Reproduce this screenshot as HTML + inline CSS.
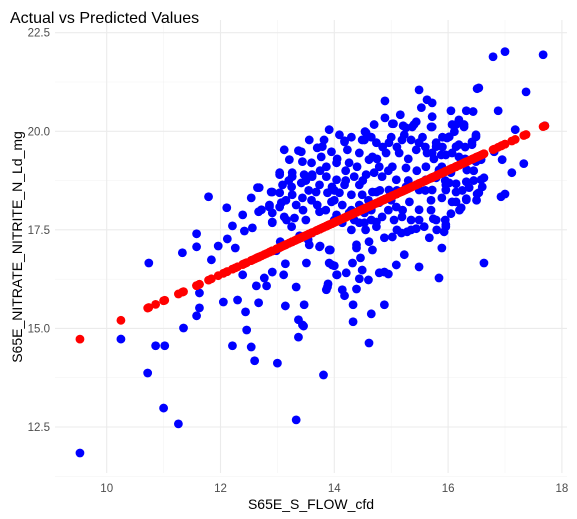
<!DOCTYPE html>
<html><head><meta charset="utf-8"><style>
body{margin:0;background:#fff;}
svg{display:block;font-family:"Liberation Sans",Arial,sans-serif;}
</style></head><body>
<svg id="chart" width="577" height="519"></svg>
<script>
const actualX=[9.53,10.25,10.72,10.86,11.02,11.00,11.26,10.74,11.35,11.63,11.63,11.58,11.58,11.58,11.33,11.79,11.84,11.96,12.05,12.11,12.12,12.21,12.26,12.30,12.21,12.39,12.42,12.44,12.46,12.54,12.56,12.54,12.39,12.60,12.65,12.63,12.67,12.67,12.77,12.81,12.86,12.91,12.91,12.91,12.98,13.00,13.04,13.04,13.05,13.11,13.14,13.14,13.16,13.26,13.33,13.33,13.37,13.37,13.39,13.46,13.47,13.51,13.54,13.61,13.61,13.74,13.81,13.88,13.91,13.91,14.00,14.04,13.44,13.56,13.75,13.89,13.86,13.93,13.96,14.05,14.14,14.18,14.21,14.32,14.33,14.33,14.39,14.39,14.39,14.44,14.46,14.49,14.53,14.60,14.61,14.65,14.67,14.74,14.79,14.88,14.88,14.95,14.61,14.88,15.02,15.09,15.18,15.23,15.28,15.44,15.49,15.58,15.67,15.74,15.84,15.89,15.93,15.96,16.05,16.14,16.23,16.32,16.51,16.60,16.63,16.93,17.00,16.79,17.00,17.67,17.37,16.54,16.51,16.88,15.49,15.63,15.72,14.89,15.53,16.05,16.32,16.44,14.89,15.16,15.72,14.70,15.04,15.21,15.44,15.37,15.70,16.07,16.19,16.28,14.54,14.53,14.18,15.23,15.35,16.11,16.49,16.42,17.18,17.70,16.95,17.33,17.12,16.81,16.58,16.33,16.05,16.63,16.14,15.96,15.81,15.49,15.79,15.98,16.14,15.72,15.96,16.19,15.61,15.84,
13.37,13.79,13.95,14.18,14.23,14.49,14.56,14.44,13.44,13.60,13.77,13.86,14.04,14.26,14.40,14.61,13.04,13.26,13.47,13.61,13.86,14.04,14.35,14.56,14.70,13.09,13.25,13.42,13.74,13.96,14.18,14.44,12.89,13.04,13.26,13.44,13.68,13.88,14.09,14.30,14.49,14.67,12.86,13.07,13.33,13.70,13.95,14.14,14.44,12.91,13.12,13.30,13.74,14.04,14.26,14.53,12.91,13.25,14.14,14.44,14.65,12.72,12.68,
15.02,15.26,15.40,15.72,16.14,16.28,16.49,14.74,14.96,15.19,15.49,15.79,16.02,16.19,16.42,14.67,14.91,15.14,15.44,15.63,15.88,16.07,16.49,14.79,15.02,15.26,15.89,16.33,14.84,15.09,15.61,15.79,16.02,16.32,16.58,14.74,14.96,15.26,15.49,15.72,15.96,16.14,16.37,16.54,14.79,15.09,15.32,15.49,15.89,16.07,16.32,14.84,15.19,15.49,15.79,15.96,14.74,
13.42,13.70,13.82,13.91,14.09,13.56,13.21,13.12,
14.85,15.10,15.60,15.90,16.30,14.05,14.75,15.30,15.75,16.30,13.75,14.20,14.95,15.45,15.95,16.45,13.20,13.50,14.20,14.50,15.30,15.95,16.45,13.55,14.00,14.80,15.10,15.60,16.25,13.15,13.60,14.00,14.60,15.00,15.70,16.50,13.45,13.85,14.30,14.65,14.95,15.20,15.70,16.20,13.50,14.00,14.35,15.05,15.35,15.95,14.30,14.55,15.10,15.35,15.80,14.30,14.65,15.00,15.55,15.90];
const actualY=[11.84,14.73,13.87,14.56,14.56,12.98,12.58,16.66,15.01,15.90,15.52,15.32,17.40,17.07,16.92,18.34,16.74,17.09,15.67,18.06,17.27,17.60,17.04,15.72,14.56,16.36,17.47,15.42,14.96,14.53,17.55,18.31,17.88,14.18,18.57,16.08,17.96,15.65,16.28,16.08,18.08,18.46,17.70,16.43,16.97,14.12,18.08,18.90,17.20,16.36,16.64,15.57,17.75,18.85,16.05,12.68,15.22,14.78,17.35,15.06,15.60,16.66,17.25,17.42,18.90,17.07,13.82,16.05,16.99,16.66,16.59,16.36,15.09,17.12,17.09,16.13,15.98,16.99,16.61,16.36,15.98,15.83,16.41,16.66,15.60,15.17,16.00,17.12,17.04,16.26,16.79,16.48,17.68,16.23,14.63,15.37,16.99,17.70,16.41,16.43,15.60,16.38,17.20,17.30,17.32,16.61,17.42,16.87,17.45,17.53,16.56,17.58,17.30,17.78,16.28,17.04,17.45,17.63,17.91,18.21,18.06,18.29,18.41,18.59,16.66,18.34,18.41,21.89,22.02,21.94,21.00,21.10,21.08,20.52,21.05,20.80,20.72,20.77,20.60,20.52,20.52,20.50,20.34,20.42,20.37,20.17,20.19,20.14,20.24,20.11,20.11,20.17,20.29,20.11,19.99,19.78,19.76,19.91,19.78,19.99,19.86,19.73,20.04,20.14,19.28,19.18,18.95,19.48,19.28,19.02,18.95,18.82,18.67,18.64,18.90,19.71,19.71,19.83,19.61,19.45,19.40,19.35,19.10,19.02,
19.51,19.61,19.48,19.73,19.53,19.78,19.96,19.45,19.23,19.20,19.35,19.10,19.20,19.20,19.10,19.28,18.95,18.95,18.90,18.85,18.85,18.77,18.85,18.90,18.95,18.64,18.59,18.69,18.64,18.59,18.64,18.64,18.46,18.44,18.39,18.31,18.46,18.44,18.44,18.39,18.39,18.46,18.13,18.19,18.13,18.13,18.21,18.13,18.13,17.93,17.83,17.80,17.96,17.88,17.93,17.93,17.68,17.58,17.68,17.68,17.75,18.01,18.57,
20.19,20.09,20.17,20.11,20.17,20.17,19.91,19.71,19.71,19.78,19.71,19.61,19.86,19.66,19.66,19.35,19.45,19.45,19.53,19.45,19.40,19.45,19.23,19.10,19.10,19.07,19.10,19.02,18.85,18.77,18.77,18.82,18.69,18.72,18.77,18.46,18.51,18.59,18.51,18.51,18.51,18.46,18.57,18.44,18.19,18.08,18.21,18.01,18.31,18.21,18.26,17.83,17.83,17.75,17.75,17.58,17.58,
19.48,19.58,19.78,20.04,19.91,19.78,19.28,19.53,
19.60,19.60,19.60,19.60,19.60,19.30,19.30,19.30,19.30,19.30,19.00,19.00,19.00,19.00,19.00,19.00,18.75,18.75,18.75,18.75,18.75,18.75,18.75,18.50,18.50,18.50,18.50,18.50,18.50,18.25,18.25,18.25,18.25,18.25,18.25,18.25,18.00,18.00,18.00,18.00,18.00,18.00,18.00,18.00,17.75,17.75,17.75,17.75,17.75,17.75,17.50,17.50,17.50,17.50,17.50,19.85,19.85,19.85,19.85,19.85];
const modelIntercept=8.42, modelSlope=0.662;
const xTicks=[10,12,14,16,18], yTicks=[12.5,15.0,17.5,20.0,22.5];
const xTickLabels=["10","12","14","16","18"], yTickLabels=["12.5","15.0","17.5","20.0","22.5"];

const NS="http://www.w3.org/2000/svg";
const svg=document.getElementById('chart');
const L=55,R=567,T=20,B=473;
const sx=v=>106.7+(v-10)*56.9;
const sy=v=>32.7+(22.5-v)*39.43;
function mk(tag,attrs,parent){const e=document.createElementNS(NS,tag);for(const k in attrs)e.setAttribute(k,attrs[k]);(parent||svg).appendChild(e);return e;}
const grid=mk('g',{});


for(let i=0;i<xTicks.length-1;i++){const m=(xTicks[i]+xTicks[i+1])/2;mk('line',{x1:sx(m),x2:sx(m),y1:T,y2:B,stroke:'#f3f3f3','stroke-width':0.6},grid);}
for(let i=0;i<yTicks.length-1;i++){const m=(yTicks[i]+yTicks[i+1])/2;mk('line',{x1:L,x2:R,y1:sy(m),y2:sy(m),stroke:'#f3f3f3','stroke-width':0.6},grid);}
{const m=yTicks[0]-1.25;mk('line',{x1:L,x2:R,y1:sy(m),y2:sy(m),stroke:'#f3f3f3','stroke-width':0.6},grid);}
xTicks.forEach((t,i)=>{mk('line',{x1:sx(t),x2:sx(t),y1:T,y2:B,stroke:'#ebebeb','stroke-width':1.1},grid);
 const tx=mk('text',{x:sx(t),y:492,'text-anchor':'middle','font-size':11.5,fill:'#4d4d4d'});tx.textContent=xTickLabels[i];
 
 });
yTicks.forEach((t,i)=>{mk('line',{x1:L,x2:R,y1:sy(t),y2:sy(t),stroke:'#ebebeb','stroke-width':1.1},grid);
 const tx=mk('text',{x:50,y:sy(t)+4,'text-anchor':'end','font-size':11.5,fill:'#4d4d4d'});tx.textContent=yTickLabels[i];
 
 });
const pts=mk('g',{fill:'#0000ff'});


for(let i=0;i<actualX.length;i++){const c=mk('circle',{cx:sx(actualX[i]),cy:sy(actualY[i]),r:4.4},pts);
 
 }
const pred=mk('g',{fill:'#ff0000'});


for(let i=0;i<actualX.length;i++){const c=mk('circle',{cx:sx(actualX[i]),cy:sy(modelIntercept+modelSlope*actualX[i]),r:4.4},pred);
 
 }
const title=mk('text',{x:10,y:23,'font-size':16,fill:'#000'});title.textContent='Actual vs Predicted Values';


const xt=mk('text',{x:311,y:509,'text-anchor':'middle','font-size':14,fill:'#000'});xt.textContent='S65E_S_FLOW_cfd';


const yt=mk('text',{x:0,y:0,'text-anchor':'middle','font-size':14,fill:'#000',transform:'translate(22,247) rotate(-90)'});yt.textContent='S65E_NITRATE_NITRITE_N_Ld_mg';


</script>
</body></html>
